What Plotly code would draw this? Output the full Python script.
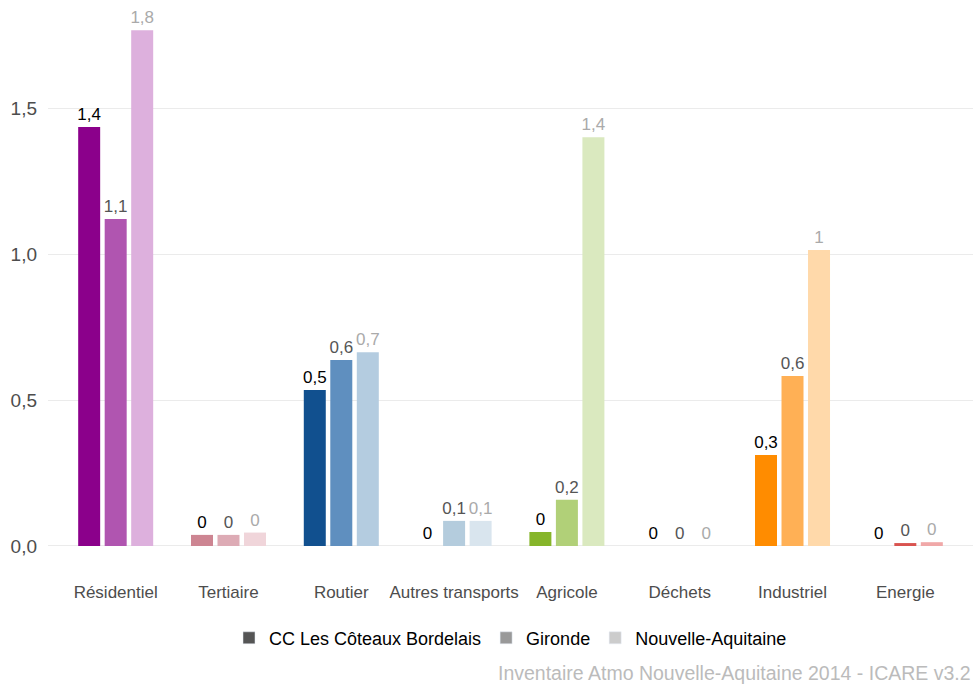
import plotly.graph_objects as go

categories = ["Résidentiel", "Tertiaire", "Routier", "Autres transports", "Agricole", "Déchets", "Industriel", "Energie"]
series_names = ["CC Les Côteaux Bordelais", "Gironde", "Nouvelle-Aquitaine"]
cc_values = [1.435, 0.038, 0.534, 0.0, 0.048, 0.0, 0.312, 0.0]
gironde_values = [1.12, 0.038, 0.637, 0.086, 0.158, 0.0, 0.582, 0.010]
na_values = [1.767, 0.046, 0.664, 0.086, 1.40, 0.0, 1.014, 0.013]

cc_colors = ["#8B008B", "#CD8592", "#11508F", "#B4CCDD", "#86B52A", "#888888", "#FF8C00", "#D04545"]
gironde_colors = ["#B055B0", "#DDABB5", "#5F8FBF", "#B4CCDD", "#B1D078", "#BBBBBB", "#FFB055", "#D9534F"]
na_colors = ["#DDB0DD", "#F0D5DA", "#B4CCE0", "#D9E5EE", "#DAE9BF", "#DDDDDD", "#FFD9AA", "#F0A8A8"]
label_colors = ["#000000", "#555555", "#AAAAAA"]
legend_colors = ["#555555", "#999999", "#CCCCCC"]
caption = "Inventaire Atmo Nouvelle-Aquitaine 2014 - ICARE v3.2"

FONT = "Arial, Liberation Sans, sans-serif"


def fmt(v):
    r = round(v, 1)
    s = f"{r:g}"
    return s.replace(".", ",")


x_idx = list(range(len(categories)))
fig = go.Figure()
offsets = [-0.3325, -0.0975, 0.1375]
for vals, cols, lc, off in zip([cc_values, gironde_values, na_values],
                               [cc_colors, gironde_colors, na_colors],
                               label_colors, offsets):
    fig.add_trace(go.Bar(
        x=x_idx, y=vals, marker=dict(color=cols, line=dict(width=0)),
        width=0.195, offset=off,
        text=[fmt(v) for v in vals], textposition="outside",
        textfont=dict(color=lc, size=17, family=FONT),
        constraintext="none", cliponaxis=False, showlegend=False,
        hoverinfo="skip"))

for name, c in zip(series_names, legend_colors):
    fig.add_trace(go.Bar(x=[None], y=[None], name=name, marker=dict(color=c)))

fig.update_layout(
    width=973, height=686,
    margin=dict(l=48, r=0, t=10, b=126),
    plot_bgcolor="white", paper_bgcolor="white",
    barmode="overlay",
    font=dict(family=FONT, size=17, color="#4D4D4D"),
    showlegend=True,
    legend=dict(orientation="h", x=0.5, xanchor="center", xref="paper",
                y=-0.142, yanchor="middle", font=dict(size=18, color="#000000"),
                itemwidth=30, tracegroupgap=0),
    xaxis=dict(range=[-0.6, 7.6], tickvals=x_idx, ticktext=categories,
               showgrid=False, zeroline=False, showline=False, ticks="",
               ticklabelstandoff=20, tickfont=dict(size=17, color="#4D4D4D")),
    yaxis=dict(range=[-0.048, 1.836], tickvals=[0, 0.5, 1.0, 1.5],
               ticktext=["0,0", "0,5", "1,0", "1,5"],
               showgrid=True, gridcolor="#EBEBEB", gridwidth=1.3,
               zeroline=False, showline=False, ticks="",
               ticklabelstandoff=10, tickfont=dict(size=19, color="#4D4D4D")),
    annotations=[dict(text=caption, xref="paper", yref="paper", x=1.0, y=-0.2055,
                      xanchor="right", yanchor="middle", showarrow=False,
                      font=dict(size=19.5, color="#BBBBBB"))],
)

fig.write_html("out.html")
